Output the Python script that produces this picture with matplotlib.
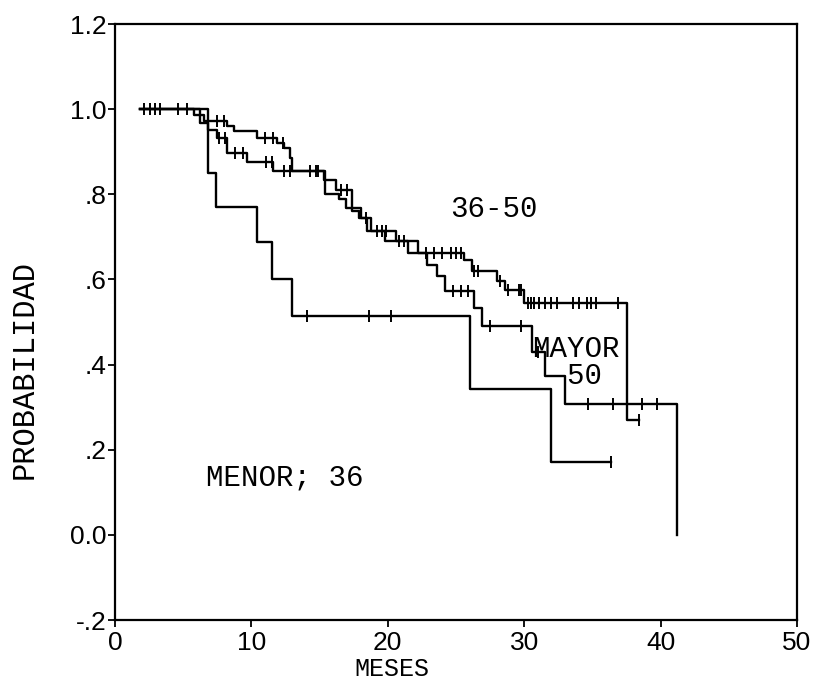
import numpy as np
import matplotlib
matplotlib.use("Agg")
import matplotlib.pyplot as plt

# ---- data ----
# group "36-50"
t_3650 = [1.8, 5.8, 6.5, 8.2, 8.7, 10.4, 11.9, 12.4, 12.8, 13.0, 15.3, 16.2, 17.4, 17.9, 18.8,
          20.6, 22.2, 25.6, 26.2, 28.0, 28.6, 30.0, 37.5, 38.4]
s_3650 = [1.0, 0.987, 0.971, 0.960, 0.948, 0.932, 0.920, 0.908, 0.885, 0.854, 0.833, 0.810, 0.760,
          0.745, 0.713, 0.690, 0.662, 0.646, 0.620, 0.596, 0.575, 0.545, 0.270, 0.270]
c_3650 = [2.1, 2.6, 2.9, 3.3, 4.6, 5.3, 7.5, 8.0, 11.0, 11.6, 12.3, 14.3, 14.7, 16.6, 17.0, 18.4,
          19.2, 19.6, 19.9, 20.8, 21.2, 22.8, 23.4, 24.0, 24.6, 25.0, 25.4, 26.3, 26.6, 28.2,
          28.8, 29.6, 29.8, 30.3, 30.5, 30.7, 31.1, 31.5, 32.0, 32.4, 33.6, 34.0, 34.6, 34.9,
          35.3, 36.9, 38.4]

# group "MAYOR 50"
t_may = [1.8, 6.2, 6.8, 7.5, 8.2, 9.7, 11.6, 15.4, 16.4, 16.9, 18.0, 18.5, 19.8, 21.5, 22.9,
         23.6, 24.2, 26.3, 26.9, 30.6, 31.5, 33.0, 41.2]
s_may = [1.0, 0.967, 0.950, 0.932, 0.897, 0.877, 0.854, 0.800, 0.790, 0.767, 0.745, 0.713, 0.690,
         0.662, 0.634, 0.607, 0.572, 0.533, 0.490, 0.430, 0.373, 0.307, 0.0]
c_may = [7.6, 8.1, 8.8, 9.4, 11.1, 11.5, 12.4, 12.8, 14.9, 24.8, 25.4, 25.9, 27.5, 29.8, 31.0,
         34.7, 36.5, 38.6, 39.7]

# group "MENOR; 36"
t_men = [1.8, 6.8, 7.4, 10.4, 11.5, 13.0, 26.0, 32.0, 36.4]
s_men = [1.0, 0.85, 0.77, 0.688, 0.60, 0.514, 0.343, 0.171, 0.171]
c_men = [14.1, 18.6, 20.2, 36.4]

labels = ["36-50", "MAYOR\n  50", "MENOR; 36"]
x_ticks = [0, 10, 20, 30, 40, 50]
y_ticks = [1.2, 1.0, 0.8, 0.6, 0.4, 0.2, 0.0, -0.2]
y_ticklabels = ["1.2", "1.0", ".8", ".6", ".4", ".2", "0.0", "-.2"]

# ---- figure ----
fig = plt.figure(figsize=(8.15, 6.93), dpi=100)
ax = fig.add_axes([115/815, 1-620/693, (797-115)/815, (620-24)/693])

def surv_at(times, surv, tc):
    idx = np.searchsorted(np.asarray(times), np.asarray(tc), side="right") - 1
    idx = np.clip(idx, 0, len(surv)-1)
    return np.asarray(surv)[idx]

for t, s, c in [(t_3650, s_3650, c_3650), (t_may, s_may, c_may), (t_men, s_men, c_men)]:
    ax.step(t, s, where="post", color="black", lw=1.7)
    ax.plot(c, surv_at(t, s, c), linestyle="none", marker="|", markersize=8,
            markeredgewidth=1.4, color="black")

mono = "Liberation Mono"
ax.text(24.6, 0.765, labels[0], fontsize=21, family=mono, va="center", ha="left")
ax.text(30.6, 0.404, labels[1], fontsize=21, family=mono, va="center", ha="left",
        linespacing=0.95)
ax.text(6.7, 0.135, labels[2], fontsize=21, family=mono, va="center", ha="left")

ax.set_xlim(0, 50)
ax.set_ylim(-0.2, 1.2)
ax.set_xticks(x_ticks)
ax.set_xticklabels([str(v) for v in x_ticks], family="Liberation Sans", fontsize=19)
ax.set_yticks(y_ticks)
ax.set_yticklabels(y_ticklabels, family="Liberation Sans", fontsize=19)
ax.tick_params(axis="y", direction="out", length=5, width=1.3, pad=1)
ax.tick_params(axis="x", direction="out", length=5, width=1.3, pad=3)
for sp in ax.spines.values():
    sp.set_linewidth(1.6)

ax.set_xlabel("MESES", family=mono, fontsize=18)
ax.xaxis.set_label_coords(0.406, -0.062)
ax.set_ylabel("PROBABILIDAD", family=mono, fontsize=22)
ax.yaxis.set_label_coords(-0.11, 0.42)

fig.savefig("out.png", dpi=100)
